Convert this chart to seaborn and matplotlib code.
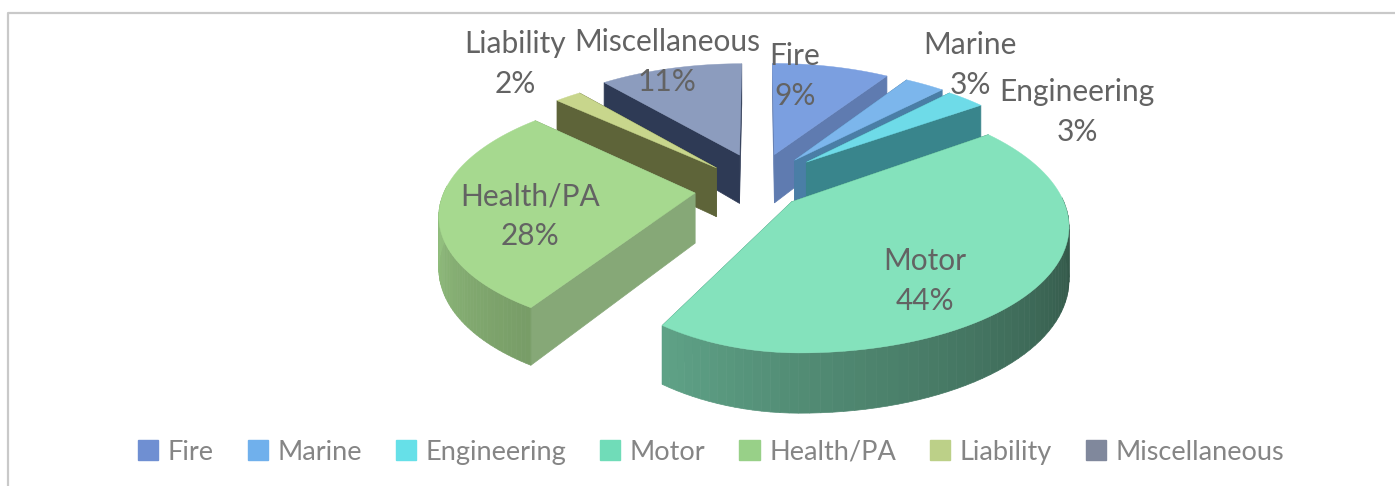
import numpy as np
import matplotlib
matplotlib.use('Agg')
import matplotlib.pyplot as plt
from matplotlib.patches import Patch
import seaborn as sns

# Premium share by line of business
categories = ['Fire', 'Marine', 'Engineering', 'Motor', 'Health/PA', 'Liability', 'Miscellaneous']
shares = [9, 3, 3, 44, 28, 2, 11]

# look of the slices
top_colors = ['#7b9fe0', '#7cb6ec', '#6edbe8', '#84e2bc', '#a6d98f', '#c8d68c', '#8c9cbe']
edge_colors = ['#5f7bb0', '#4a7ea6', '#39858c', '#3d8a72', '#86a877', '#5e6439', '#2e3a55']
legend_colors = ['#6f8fd2', '#70b0ec', '#66e0e8', '#70dcb8', '#98d088', '#bcd088', '#80889c']
explode = [0.2, 0.27, 0.27, 0.2, 0.2, 0.2, 0.2]
radius = [0.93, 0.96, 0.93, 1.0, 0.97, 0.95, 0.93]
squeeze = [1, 1, 1, 0.8, 0.97, 1, 1]   # left half of a slice, fakes the camera angle
nudge = [(8, -8), (0, 0), (2, -2), (0, 0), (-4, 5), (0, 0), (5, -8)]
draw_order = [6, 0, 5, 1, 2, 4, 3]

# where the labels go, in pixels
label_pos = [(795, 76), (970, 65), (1077, 112), (925, 281), (530, 216), (515, 64), (667, 62)]

sns.set_theme(style='white')
plt.rcParams['font.family'] = ['Lato', 'DejaVu Sans']

CX, CY = 752, 185
RX, RY = 266, 120
PERSP = 0.165
DEPTH = 50


def project(u, v):
    s = 1 / (1 + PERSP * v)
    return CX + RX * u * s, CY - RY * v * s


def depth(v):
    return DEPTH * (1 - 0.18 * v)


def shade(color, f):
    return tuple(np.array(matplotlib.colors.to_rgb(color)) * f)


fig = plt.figure(figsize=(13.95, 4.86), dpi=100)
ax = fig.add_axes([0, 0, 1, 1])
ax.set_xlim(0, 1395)
ax.set_ylim(486, 0)
ax.axis('off')

# grey chart frame
ax.plot([8, 8, 1395], [486, 13, 13], color='#c9c9c9', lw=1.6)

ends = np.cumsum(shares) / np.sum(shares) * 360
starts = np.r_[0, ends[:-1]]

for i in draw_order:
    z = 2 + draw_order.index(i)
    mid = np.radians((starts[i] + ends[i]) / 2)
    ou, ov = explode[i] * np.sin(mid), explode[i] * np.cos(mid)
    theta = np.radians(np.linspace(starts[i], ends[i], 80))
    sx = np.sin(theta)
    u = ou + radius[i] * np.where(sx < 0, squeeze[i] * sx, sx)
    v = ov + radius[i] * np.cos(theta)
    x, y = project(u, v)
    x = x + nudge[i][0]
    y = y + nudge[i][1]
    px, py = project(ou, ov)
    px = px + nudge[i][0]
    py = py + nudge[i][1]
    d = depth(v)
    d0 = depth(ov)

    # flat cut faces
    for j in [0, -1]:
        ax.fill([px, x[j], x[j], px], [py, y[j], y[j] + d[j], py + d0],
                color=edge_colors[i], lw=0.5, zorder=z)

    # curved rim, only the front part shows, lighter towards the left
    for j in range(len(theta) - 1):
        if np.cos(theta[j]) > 0.05:
            continue
        f = np.clip(0.38 + (np.degrees(theta[j]) - 100) / 112 * 0.34, 0.3, 0.88)
        ax.fill([x[j], x[j + 1], x[j + 1], x[j]],
                [y[j], y[j + 1], y[j + 1] + d[j + 1], y[j] + d[j]],
                color=shade(top_colors[i], f), lw=0.5, zorder=z)

    ax.fill(np.r_[px, x], np.r_[py, y], color=top_colors[i], lw=0.3, zorder=z)

for i, name in enumerate(categories):
    ax.text(label_pos[i][0], label_pos[i][1], f'{name}\n{shares[i]}%', ha='center', va='center',
            fontsize=21.5, color='#636363', linespacing=1.5, zorder=20)

handles = [Patch(color=c, label=n) for c, n in zip(legend_colors, categories)]
ax.legend(handles=handles, loc='center', bbox_to_anchor=(711, 452), bbox_transform=ax.transData,
          ncol=7, frameon=False, fontsize=19.5, labelcolor='#858585', handlelength=0.75, handleheight=0.75,
          handletextpad=0.35, columnspacing=1.25)

fig.savefig('out.png', dpi=100)
